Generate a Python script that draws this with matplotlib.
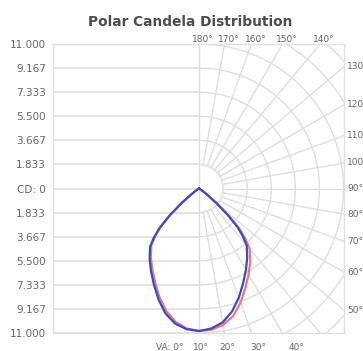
import numpy as np
import matplotlib
matplotlib.use('Agg')
import matplotlib.pyplot as plt

# vertical angles (deg from nadir) and candela per half-plane
angles = [0, 5, 10, 15, 20, 25, 30, 35, 40, 42.5, 45, 47.5, 50, 52.5, 55, 60, 65, 70, 80, 90]
red_right = [10850, 10800, 10550, 10050, 9250, 8350, 7550, 6800, 6000, 5250, 4400, 3100, 1800, 850, 400, 60, 0, 0, 0, 0]
red_left = [10850, 10700, 10300, 9650, 8800, 7900, 7100, 6400, 5650, 4950, 4150, 2950, 1650, 750, 330, 50, 0, 0, 0, 0]
blue_right = [10850, 10700, 10350, 9700, 8850, 7950, 7150, 6400, 5650, 4950, 4150, 2950, 1700, 800, 350, 60, 0, 0, 0, 0]
blue_left = [10850, 10750, 10450, 9850, 9000, 8100, 7300, 6550, 5800, 5100, 4250, 3000, 1750, 800, 350, 60, 0, 0, 0, 0]

cd_max = 11000
cd_labels = ['11.000', '9.167', '7.333', '5.500', '3.667', '1.833', 'CD: 0',
             '1.833', '3.667', '5.500', '7.333', '9.167', '11.000']
top_angles = [180, 170, 160, 150, 140]
side_angles = [130, 120, 110, 100, 90, 80, 70, 60, 50]
bottom_angles = [0, 10, 20, 30, 40]
bottom_labels = ['VA: 0°', '10°', '20°', '30°', '40°']

W, H = 363, 351
fig = plt.figure(figsize=(W / 100, H / 100), dpi=100)
ax = fig.add_axes([53 / W, 18 / H, 291 / W, 289 / H])

cd_per_px = 2 * cd_max / 289
x_left = -146 * cd_per_px
x_right = 145 * cd_per_px
ax.set_xlim(x_left, x_right)
ax.set_ylim(-cd_max, cd_max)

grid_c = '#dedede'
txt_c = '#666666'

# left half: horizontal candela gridlines
ticks = np.linspace(cd_max, -cd_max, 13)
for t in ticks:
    ax.plot([x_left, 0], [t, t], color='#e3e3e3', lw=1.4, zorder=1)
ax.axvline(0, color=grid_c, lw=1.0, zorder=1)

# right half: polar grid (circles + radial lines every 10 deg)
step = cd_max / 6
phi = np.linspace(0, np.pi, 200)
for k in range(1, 10):
    r = k * step
    ax.plot(r * np.sin(phi), -r * np.cos(phi), color=grid_c, lw=1.0, zorder=1)
for a in range(10, 180, 10):
    th = np.radians(a)
    r = np.array([step, 3 * cd_max])
    ax.plot(r * np.sin(th), -r * np.cos(th), color=grid_c, lw=1.0, zorder=1)

# candela curves, each plane drawn as left + right half
def plane(left, right):
    th = np.radians(angles)
    l = np.array(left)
    r = np.array(right)
    x = np.concatenate([-(l * np.sin(th))[::-1], r * np.sin(th)])
    y = np.concatenate([-(l * np.cos(th))[::-1], -r * np.cos(th)])
    return x, y

xr, yr = plane(red_left, red_right)
xb, yb = plane(blue_left, blue_right)
ax.plot(xr, yr, color='#f07777', lw=1.6, zorder=3, solid_joinstyle='round')
ax.plot(xb, yb, color='#3b4cc0', lw=1.6, zorder=4, solid_joinstyle='round')

ax.set_yticks(ticks)
ax.set_yticklabels(cd_labels)
ax.tick_params(axis='y', length=0, pad=5, labelsize=7.5, labelcolor=txt_c)
ax.set_xticks([])
for s in ax.spines.values():
    s.set_color('#e0e0e0')
    s.set_linewidth(1.0)

# angle labels along the frame
for a in top_angles:
    x = cd_max * np.tan(np.radians(180 - a))
    ax.text(x + 4 * cd_per_px, cd_max, f'{a}°', ha='center', va='bottom',
            fontsize=6.5, color=txt_c, clip_on=False)
for a in side_angles:
    y = -x_right / np.tan(np.radians(a)) if a != 90 else 0
    ax.text(x_right + 3 * cd_per_px, y, f'{a}°', ha='left', va='center',
            fontsize=6.5, color=txt_c, clip_on=False)
for a, lab in zip(bottom_angles, bottom_labels):
    x = cd_max * np.tan(np.radians(a))
    ax.text(x - 16 * cd_per_px, -cd_max - 14 * cd_per_px, lab, ha='right', va='center',
            fontsize=6.5, color=txt_c, clip_on=False)

fig.text(190 / W, 1 - 22 / H, 'Polar Candela Distribution', ha='center', va='center',
         fontsize=9.9, fontweight='bold', color='#4d4d4d')

fig.savefig('out.png', dpi=100)
